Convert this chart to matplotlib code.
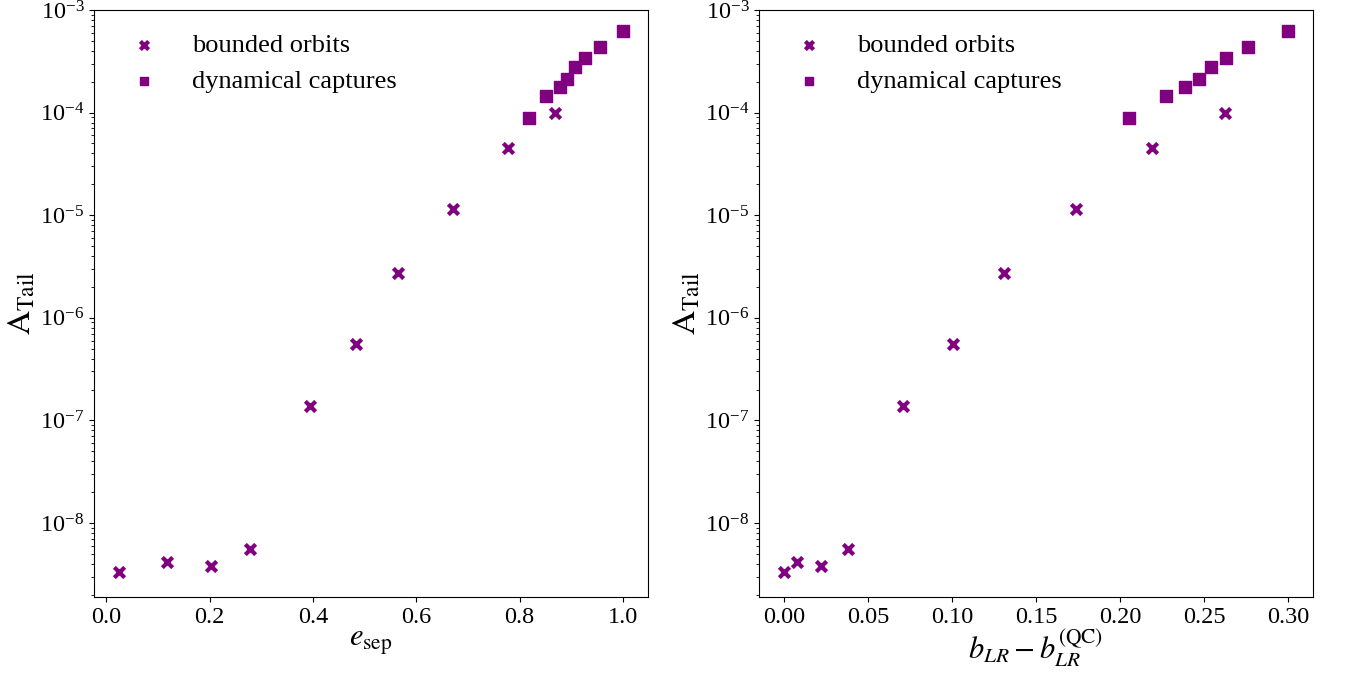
import numpy as np
import matplotlib
matplotlib.use('Agg')
import matplotlib.pyplot as plt

plt.rcParams['font.family'] = ['Liberation Serif', 'DejaVu Serif']
plt.rcParams['mathtext.fontset'] = 'stix'

# bounded orbits
e_bound = [0.025, 0.117, 0.203, 0.278, 0.394, 0.484, 0.564, 0.671, 0.778, 0.869]
b_bound = [0.0, 0.0074, 0.0219, 0.038, 0.0705, 0.1005, 0.1306, 0.1737, 0.2188, 0.2625]
A_bound = [3.3e-9, 4.2e-9, 3.8e-9, 5.6e-9, 1.38e-7, 5.5e-7, 2.74e-6, 1.14e-5, 4.5e-5, 9.85e-5]

# dynamical captures
e_capt = [0.819, 0.851, 0.878, 0.892, 0.907, 0.927, 0.955, 1.0]
b_capt = [0.2053, 0.227, 0.2388, 0.2466, 0.2539, 0.263, 0.2759, 0.2997]
A_capt = [8.9e-5, 1.44e-4, 1.76e-4, 2.12e-4, 2.78e-4, 3.40e-4, 4.33e-4, 6.25e-4]

y_ticks = [1e-8, 1e-7, 1e-6, 1e-5, 1e-4, 1e-3]
b_ticks = [0.0, 0.05, 0.10, 0.15, 0.20, 0.25, 0.30]

color = 'purple'

fig = plt.figure(figsize=(13.49, 6.75), dpi=100)
ax1 = fig.add_axes([94 / 1349, 1 - 597 / 675, 554 / 1349, 587 / 675])
ax2 = fig.add_axes([759 / 1349, 1 - 597 / 675, 554 / 1349, 587 / 675])

panels = [(ax1, e_bound, e_capt, r'$e_{\rm sep}$'),
          (ax2, b_bound, b_capt, r'$b_{LR}-b_{LR}^{\rm (QC)}$')]

for ax, xb, xc, xlab in panels:
    ax.scatter(xb, A_bound, marker='x', color=color, s=55, linewidths=3,
               label='bounded orbits')
    ax.scatter(xc, A_capt, marker='s', color=color, s=65, label='dynamical captures')
    ax.set_yscale('log')
    ax.set_yticks(y_ticks)
    ax.set_ylim(1.9e-9, 1e-3)
    ax.set_xlabel(xlab, fontsize=22, labelpad=0)
    ax.set_ylabel(r'$\rm A_{Tail}$', fontsize=24, labelpad=2)
    ax.tick_params(labelsize=17.5)
    ax.legend(loc='upper left', frameon=False, fontsize=19, handletextpad=0.8,
              borderaxespad=0.5, labelspacing=0.45, markerscale=0.8)

ax2.set_xticks(b_ticks)

fig.savefig('out.png', dpi=100)
